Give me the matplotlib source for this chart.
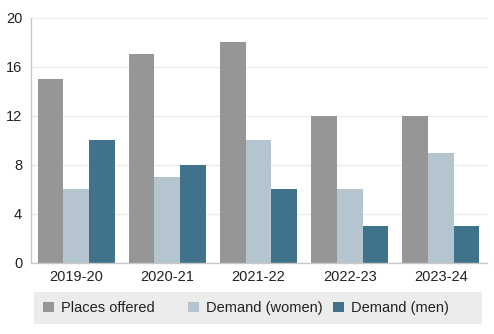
import numpy as np
import matplotlib.pyplot as plt
from matplotlib.patches import Rectangle

plt.rcParams['font.family'] = ['Liberation Sans', 'DejaVu Sans']

years = ['2019-20', '2020-21', '2021-22', '2022-23', '2023-24']
places_offered = [15, 17, 18, 12, 12]
demand_women = [6, 7, 10, 6, 9]
demand_men = [10, 8, 6, 3, 3]

series = [
    ('Places offered', places_offered, '#969696'),
    ('Demand (women)', demand_women, '#b4c5cf'),
    ('Demand (men)', demand_men, '#41728b'),
]

fig = plt.figure(figsize=(4.94, 3.34), dpi=100)
ax = fig.add_axes([30.5 / 494, 1 - 263 / 334, 456 / 494, 245.5 / 334])

x = np.arange(len(years))
w = 0.282
bars = []
for i, (name, vals, col) in enumerate(series):
    b = ax.bar(x + (i - 1) * w, vals, width=w, color=col, label=name, zorder=2)
    bars.append(b)

ax.set_xlim(-0.5, len(years) - 0.5)
ax.set_ylim(0, 20)
ax.set_yticks(range(0, 21, 4))
ax.set_xticks(x)
ax.set_xticklabels(years)
ax.tick_params(axis='both', length=0, labelsize=10.5, colors='#222222')
ax.tick_params(axis='y', pad=6)
ax.tick_params(axis='x', pad=5)
ax.grid(True, axis='y', color='#ebebeb', linewidth=1, zorder=0)
for s in ['top', 'right']:
    ax.spines[s].set_visible(False)
for s in ['left', 'bottom']:
    ax.spines[s].set_color('#c8c8c8')
    ax.spines[s].set_linewidth(1)

# фон легенды
fig.patches.append(Rectangle((34 / 494, 1 - 324 / 334), 448 / 494, 32 / 334,
                             transform=fig.transFigure, facecolor='#ececec',
                             edgecolor='none', zorder=0))
# колонки легенды одинаковой ширины
for i, (b, (name, _, _)) in enumerate(zip(bars, series)):
    fig.legend([b], [name], loc='center left',
               bbox_to_anchor=((30 + 145 * i) / 494, 1 - 308 / 334),
               frameon=False, fontsize=10.5, handlelength=0.75,
               handleheight=0.75, handletextpad=0.5, labelcolor='#222222')

fig.savefig('out.png', dpi=100)
